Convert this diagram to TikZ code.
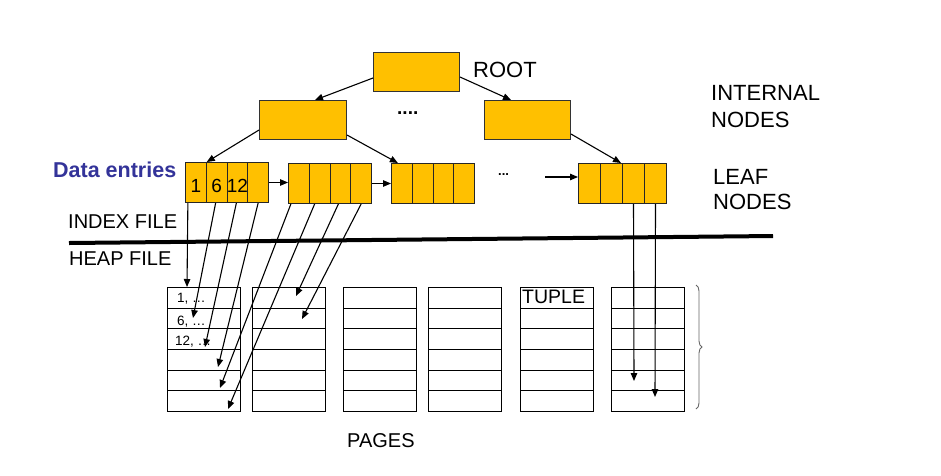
\documentclass[tikz,border=0pt]{standalone}
\usepackage{fontspec}
\setmainfont{Liberation Sans}
\usetikzlibrary{arrows.meta,calc,decorations.pathreplacing}
\definecolor{boxfill}{RGB}{255,192,0}
\definecolor{dataentry}{RGB}{51,51,153}
\begin{document}
\begin{tikzpicture}[x=1pt,y=-1pt,
  ybox/.style={draw=black!80,line width=1pt,fill=boxfill,inner sep=0pt,minimum height=39pt,anchor=north west},
  cellbox/.style={draw=black!85,line width=1pt,fill=boxfill,inner sep=0pt,minimum height=40pt,anchor=north west},
  rowbox/.style={draw=black,line width=1.1pt,inner sep=0pt,minimum width=73pt,minimum height=20.67pt,anchor=north west},
  conn/.style={line width=1.1pt,-{Triangle[length=8pt,width=6.5pt]}},
  lbl/.style={anchor=base west,inner sep=0pt,font=\fontsize{20}{24}\selectfont},
  biglbl/.style={anchor=base west,inner sep=0pt,font=\fontsize{22}{26}\selectfont},
  smalllbl/.style={anchor=base west,inner sep=0pt,font=\fontsize{13.5}{16}\selectfont},
  numlbl/.style={anchor=base,inner sep=0pt,font=\fontsize{19}{22}\selectfont}]
\fill[white] (0,0) rectangle (941,475);
\useasboundingbox (0,0) rectangle (941,475);

% tree boxes
\node[ybox,minimum width=86pt] (root) at (373,52) {};
\node[ybox,minimum width=87pt] (li) at (259,100) {};
\node[ybox,minimum width=86pt] (ri) at (484,100) {};

% leaves
\foreach \i in {1,...,4} {
  \node[cellbox,minimum width=20.75pt] (l1c\i) at ({185+(\i-1)*20.75},162) {};
  \node[cellbox,minimum width=20.75pt] (l2c\i) at ({288+(\i-1)*20.75},163) {};
  \node[cellbox,minimum width=20.75pt] (l3c\i) at ({391+(\i-1)*20.75},163) {};
  \node[cellbox,minimum width=22pt] (l4c\i) at ({578+(\i-1)*22},163) {};
}
\node[numlbl] (n1) at (l1c1 |- 0,192) {1};
\node[numlbl] (n6) at (l1c2 |- 0,192) {6};
\node[numlbl] (n12) at (l1c3 |- 0,192) {12};

% pages
\foreach \p/\x in {1/167,2/252,3/343,4/428,5/520,6/611} {
  \foreach \r in {1,...,6} {
    \node[rowbox] (p\p r\r) at (\x,{287+(\r-1)*20.67}) {};
  }
}
\node[smalllbl] (t1) at (177,302) {1, …};
\node[smalllbl] (t6) at (177,325) {6, …};
\node[smalllbl] (t12) at (175,345) {12, …};
\node[anchor=base west,inner sep=0pt,font=\fontsize{19.5}{23}\selectfont] (tuple) at (522,303) {TUPLE};

% labels
\node[biglbl] (rootlbl) at (473,77) {ROOT};
\node[biglbl] (int1) at (711,100) {INTERNAL};
\node[biglbl] (int2) at (711,127) {NODES};
\node[biglbl] (leaf1) at (713,184) {LEAF};
\node[biglbl] (leaf2) at (713,209) {NODES};
\node[anchor=base west,inner sep=0pt,font=\bfseries\fontsize{21.5}{25}\selectfont,text=dataentry] (data) at (53,177) {Data entries};
\node[lbl] (index) at (68,228) {INDEX FILE};
\node[lbl] (heap) at (69,265) {HEAP FILE};
\node[lbl] (pages) at (347,447) {PAGES};
\node[anchor=base west,inner sep=0pt,font=\bfseries\fontsize{19}{23}\selectfont] (dots1) at (397,114) {....};
\node[anchor=base west,inner sep=0pt,font=\bfseries\fontsize{13}{15}\selectfont] (dots2) at (498,175) {...};

% separator
\coordinate (sepl) at (69,243);
\coordinate (sepr) at (773,236);
\draw[line width=4pt] (sepl) -- (sepr);

% tree arrows
\draw[conn] ($(root.south west)+(0,-14)$) -- ($(li.north west)+(56,0)$);
\draw[conn] ($(root.south east)+(0,-15)$) -- ($(ri.north west)+(27,0)$);
\draw[conn] ($(li.south west)+(0,-10)$) -- ($(l1c2.north west)+(1,0)$);
\draw[conn] ($(li.south east)+(0,-5)$) -- ($(l3c1.north)+(-4,0)$);
\draw[conn] ($(ri.south east)+(0,-6)$) -- ($(l4c2.north east)+(-2,0)$);

% leaf chain
\draw[conn] (l1c4.east) -- (l1c4.east -| l2c1.west);
\draw[conn] (l2c4.east) -- (l2c4.east -| l3c1.west);
\coordinate (d4) at (545,177);
\draw[conn] (d4) -- (d4 -| l4c1.west);

% data entry pointers
\coordinate (a1) at (187,287);
\coordinate (a2) at (193,318);
\coordinate (a3) at (205,347);
\coordinate (a4) at (218,367);
\coordinate (a5) at (220,388);
\coordinate (a6) at (228,409);
\coordinate (a7) at (296,296);
\coordinate (a8) at (302,319);
\coordinate (a9) at (634,381);
\coordinate (a10) at (655,397);
\draw[conn] ($(l1c1.south)+(-8,0)$) -- (a1);
\draw[conn] ($(l1c2.south)+(-1,0)$) -- (a2);
\draw[conn] ($(l1c3.south)+(-1,0)$) -- (a3);
\draw[conn] (l1c4.south) -- (a4);
\draw[conn] ($(l2c1.south)+(-8,0)$) -- (a5);
\draw[conn] ($(l2c2.south)+(-5,0)$) -- (a6);
\draw[conn] ($(l2c3.south)+(-2,0)$) -- (a7);
\draw[conn] (l2c4.south) -- (a8);
\draw[conn] (l4c3.south) -- (a9);
\draw[conn] (l4c4.south) -- (a10);

% brace
\coordinate (bt) at (696,285);
\coordinate (bb) at (696,409);
\draw[black!60,line width=0.9pt,decorate,decoration={brace,amplitude=6pt}] (bt) -- (bb);
\end{tikzpicture}
\end{document}
